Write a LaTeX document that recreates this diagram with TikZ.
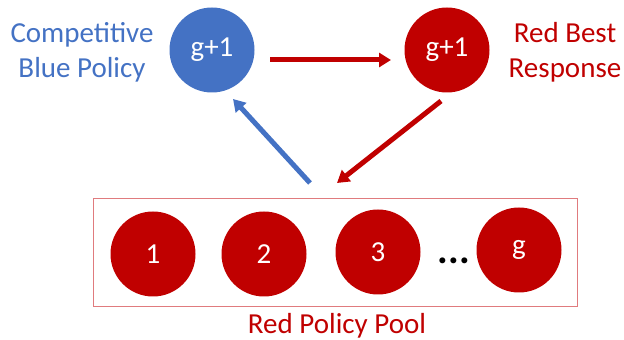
\documentclass[tikz,border=0pt]{standalone}
\usepackage{fontspec}
\setmainfont{Carlito}
\usetikzlibrary{arrows.meta}
\definecolor{offblue}{HTML}{4472C4}
\definecolor{offred}{HTML}{C00000}
\definecolor{poolline}{HTML}{E07B7E}
\begin{document}
\begin{tikzpicture}[x=1pt,y=1pt,
  policy/.style={circle,minimum size=85pt,inner sep=0pt,text=white,font=\fontsize{29}{31}\selectfont},
  bluepol/.style={policy,fill=offblue},
  redpol/.style={policy,fill=offred},
  caption/.style={font=\fontsize{29}{35}\selectfont,align=center},
  flow/.style={line width=5pt,-{Triangle[length=12pt,width=14pt]}}]
\useasboundingbox (0,0) rectangle (624,340);
% top row
\node[bluepol] (blue) at (212,290) {g+1};
\node[redpol] (best) at (447,290) {g+1};
\node[caption,text=offblue] (bluecap) at (82,288) {Competitive\\Blue Policy};
\node[caption,text=offred] (bestcap) at (565,288) {Red Best\\Response};
% policy pool
\node[draw=poolline,line width=1pt,minimum width=484pt,minimum height=108pt,inner sep=0pt] (pool) at (335,87) {};
\node[redpol] (p1) at (153,86) {1};
\node[redpol] (p2) at (264,86) {2};
\node[redpol] (p3) at (378,88) {3};
\node[font=\fontsize{40}{40}\selectfont\bfseries] (dots) at (454,79) {...};
\node[redpol] (pg) at (519,90) {g};
\node[caption,text=offred] (poolcap) at (337,14) {Red Policy Pool};
% flows
\coordinate (bluestart) at (310,157);
\coordinate (blueend) at (233,241);
\coordinate (beststart) at (441,239);
\coordinate (bestend) at (337,157);
\coordinate (topstart) at (270,280);
\coordinate (topend) at (391,280);
\draw[flow,offred] (topstart) -- (topend);
\draw[flow,offblue] (bluestart) -- (blueend);
\draw[flow,offred] (beststart) -- (bestend);
\end{tikzpicture}
\end{document}
